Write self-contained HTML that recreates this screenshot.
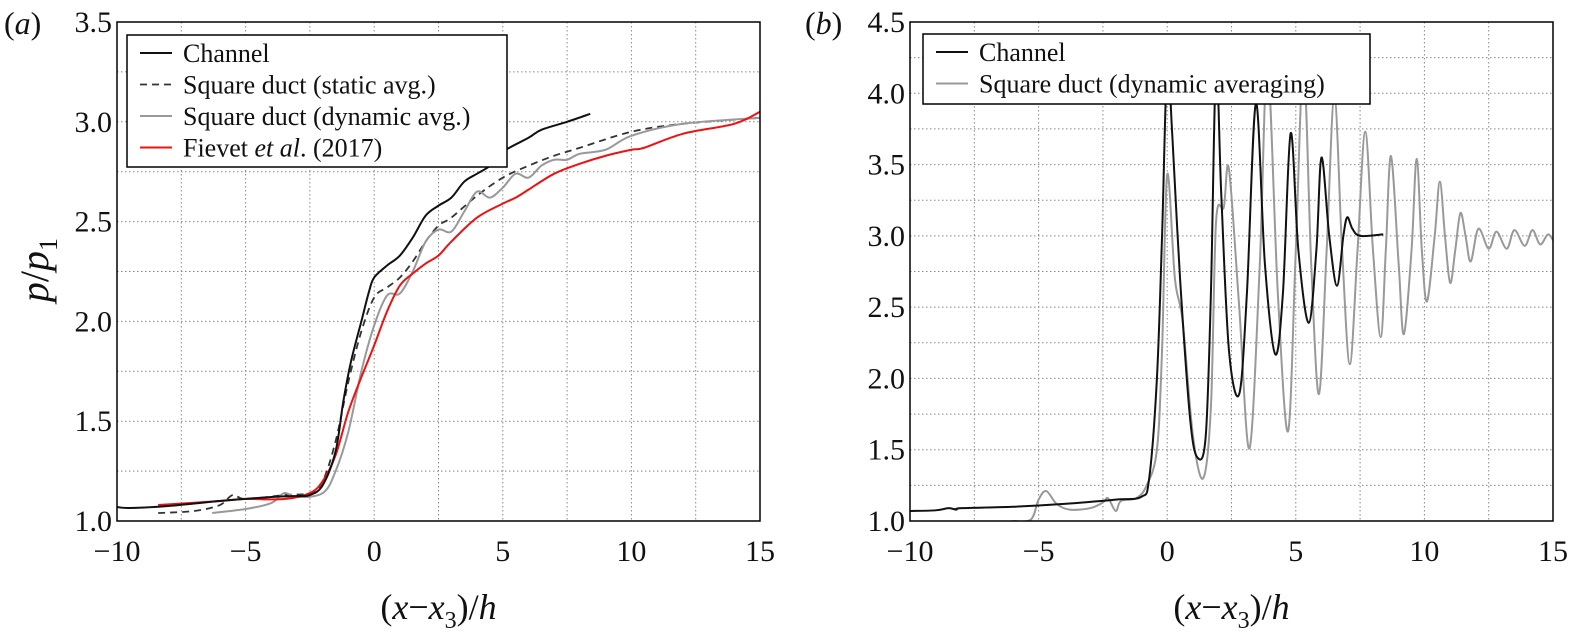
<!DOCTYPE html>
<html><head><meta charset="utf-8">
<style>
html,body{margin:0;padding:0;background:#fff;}
svg{display:block;}
svg text{font-family:"Liberation Serif","DejaVu Serif",serif;}
</style></head>
<body>
<svg id="fig" width="1577" height="635" viewBox="0 0 1577 635" font-family="Liberation Serif, serif"></svg>
<script>
// ---------- DATA ----------
const aChannelX=[-10,-9.5,-8,-6,-4,-3,-2.5,-2,-1.5,-1.2,-0.9,-0.5,-0.2,0,0.5,1,1.5,2,2.5,3,3.5,4,4.5,5,6,6.5,7.5,8.4];
const aChannelY=[1.07,1.065,1.075,1.10,1.12,1.125,1.13,1.18,1.35,1.6,1.8,2.0,2.15,2.22,2.28,2.33,2.42,2.53,2.58,2.62,2.70,2.74,2.78,2.85,2.92,2.96,3.0,3.04];
const aStaticX=[-8.4,-7,-6,-5.5,-5,-3.5,-2.5,-2,-1.5,-1,-0.5,0,0.5,1,1.5,2,2.5,3,4,5,6,7,8,10,12,15];
const aStaticY=[1.04,1.05,1.08,1.13,1.11,1.13,1.14,1.2,1.4,1.7,1.95,2.12,2.17,2.22,2.30,2.40,2.48,2.52,2.63,2.72,2.78,2.83,2.87,2.95,2.99,3.02];
const aDynX=[-6.3,-5,-4,-3.5,-3,-2,-1.5,-1,-0.5,0,0.5,1,1.5,2,2.5,3,3.5,4,4.5,5,5.5,6,6.5,7,7.5,8,9,10,12,15];
const aDynY=[1.04,1.06,1.09,1.14,1.12,1.14,1.25,1.45,1.75,1.98,2.13,2.14,2.25,2.40,2.46,2.45,2.55,2.65,2.62,2.67,2.74,2.72,2.78,2.81,2.81,2.84,2.86,2.93,2.99,3.02];
const aFievX=[-8.4,-6,-5,-3.5,-2.5,-2,-1.5,-1,-0.5,0,0.5,1,1.5,2,2.5,3,4,5,5.5,6,7,8,9,10,10.5,12,14,15];
const aFievY=[1.08,1.10,1.11,1.11,1.14,1.20,1.33,1.55,1.72,1.88,2.05,2.18,2.24,2.29,2.33,2.40,2.52,2.59,2.62,2.66,2.74,2.79,2.83,2.86,2.87,2.94,2.99,3.05];

const bChannelX=[-10,-9,-8.5,-8.2,-8,-6,-4,-2,-1,-0.7,-0.4,-0.2,0,0.2,0.5,0.9,1.2,1.5,1.7,1.9,2.1,2.4,2.8,3.1,3.45,3.8,4.2,4.5,4.8,5.1,5.5,5.8,6.0,6.3,6.6,6.85,7.0,7.2,7.5,8.4];
const bChannelY=[1.07,1.075,1.09,1.08,1.09,1.10,1.12,1.15,1.17,1.3,2.0,3.0,4.2,3.7,2.7,1.7,1.44,1.6,2.6,4.2,3.3,2.2,1.89,2.6,3.93,2.8,2.17,2.6,3.72,2.9,2.39,2.9,3.55,3.0,2.65,3.0,3.13,3.05,3.0,3.01];
const bDuctX=[-6,-5.3,-5,-4.7,-4.3,-3.8,-3,-2.5,-2.3,-2,-1.8,-1.2,-0.8,-0.4,-0.2,0,0.3,0.6,1.0,1.4,1.7,1.9,2.2,2.4,2.8,3.2,3.6,3.9,4.3,4.7,5.0,5.3,5.6,5.9,6.2,6.5,6.8,7.1,7.4,7.7,8.0,8.3,8.5,8.7,9.0,9.2,9.5,9.7,9.9,10.1,10.4,10.6,10.8,11.0,11.2,11.4,11.6,11.8,12.1,12.5,12.8,13.2,13.5,13.9,14.2,14.5,14.8,15];
const bDuctY=[1.0,1.01,1.15,1.21,1.12,1.08,1.09,1.13,1.16,1.07,1.14,1.16,1.25,1.5,2.2,3.43,2.7,2.4,1.6,1.3,1.8,3.1,3.2,3.47,2.5,1.51,2.8,4.2,2.6,1.63,2.9,4.2,2.8,1.89,2.9,3.98,2.9,2.1,2.9,3.73,2.9,2.29,2.9,3.56,2.8,2.31,2.9,3.54,2.9,2.54,3.0,3.38,3.0,2.67,2.9,3.16,3.0,2.82,3.05,2.91,3.03,2.91,3.04,2.93,3.04,2.94,3.01,2.97];

const xTicks=[-10,-5,0,5,10,15];
const aYTicks=[1.0,1.5,2.0,2.5,3.0,3.5];
const bYTicks=[1.0,1.5,2.0,2.5,3.0,3.5,4.0,4.5];

// ---------- DRAW ----------
const NS="http://www.w3.org/2000/svg";
const svg=document.getElementById('fig');
const FONT='Liberation Serif, serif';
function el(tag,attrs,parent){const e=document.createElementNS(NS,tag);for(const k in attrs)e.setAttribute(k,attrs[k]);if(tag==='text')e.setAttribute('font-family',FONT);(parent||svg).appendChild(e);return e;}
const TOP=22,BOT=521;
function makeAxes(L,R,ymin,ymax){return {x:v=>L+(v+10)/25*(R-L),y:v=>BOT-(v-ymin)/(ymax-ymin)*(BOT-TOP),L,R};}

function smoothPath(xs,ys,ax){
  const p=xs.map((x,i)=>[ax.x(x),ax.y(ys[i])]);
  let d='M'+p[0][0].toFixed(2)+','+p[0][1].toFixed(2);
  for(let i=0;i<p.length-1;i++){
    const p0=p[Math.max(0,i-1)],p1=p[i],p2=p[i+1],p3=p[Math.min(p.length-1,i+2)];
    const t=6;
    const c1=[p1[0]+(p2[0]-p0[0])/t,p1[1]+(p2[1]-p0[1])/t];
    const c2=[p2[0]-(p3[0]-p1[0])/t,p2[1]-(p3[1]-p1[1])/t];
    d+=' C'+c1.map(v=>v.toFixed(2)).join(',')+' '+c2.map(v=>v.toFixed(2)).join(',')+' '+p2[0].toFixed(2)+','+p2[1].toFixed(2);
  }
  return d;
}

function panel(id,L,R,ymin,ymax,yTicks){
  const ax=makeAxes(L,R,ymin,ymax);
  const g=el('g',{});
  
  
  const defs=el('defs',{},g);
  const cp=el('clipPath',{id:'clip'+id},defs);
  el('rect',{x:L,y:TOP,width:R-L,height:BOT-TOP},cp);
  const grid=el('g',{stroke:'#888','stroke-width':1,'stroke-dasharray':'1.5,2.5'},g);
  
  
  for(let v=-7.5;v<15;v+=2.5){el('line',{x1:ax.x(v),x2:ax.x(v),y1:TOP,y2:BOT},grid);}
  for(let v=ymin+0.25;v<ymax-0.01;v+=0.25){el('line',{x1:L,x2:R,y1:ax.y(v),y2:ax.y(v)},grid);}
  xTicks.forEach(t=>{
    const tx=el('text',{x:ax.x(t),y:BOT+40,'font-size':30,'text-anchor':'middle',fill:'#111'},g);
    tx.textContent=(t<0?'\u2212':'')+Math.abs(t);
    
    
  });
  yTicks.forEach(t=>{
    const ty=el('text',{x:L-5,y:ax.y(t)+10,'font-size':30,'text-anchor':'end',fill:'#111'},g);
    ty.textContent=t.toFixed(1);
    
    
  });
  const xl=el('text',{x:(L+R)/2,y:BOT+98,'font-size':36,'text-anchor':'middle',fill:'#111'},g);
  xl.innerHTML='(<tspan font-style="italic">x</tspan>\u2212<tspan font-style="italic">x</tspan><tspan font-size="24" dy="9">3</tspan><tspan dy="-9">)/</tspan><tspan font-style="italic">h</tspan>';
  
  
  const pl=el('text',{x:L-113+(id==='b'?8:0),y:34,'font-size':32,fill:'#111'},g);
  pl.innerHTML='(<tspan font-style="italic">'+id+'</tspan>)';
  
  
  const lines=el('g',{'clip-path':'url(#clip'+id+')',fill:'none'},g);
  return {ax,g,lines};
}

function series(P,xs,ys,color,w,dash,name){
  const a={d:smoothPath(xs,ys,P.ax),stroke:color,'stroke-width':w,fill:'none','stroke-linejoin':'round'};
  if(dash)a['stroke-dasharray']=dash;
  const p=el('path',a,P.lines);
  
  
}

function legend(P,x,y,w,h,entries,name){
  const lg=el('g',{},P.g);
  
  
  el('rect',{x,y,width:w,height:h,fill:'#fff',stroke:'#000','stroke-width':1.5},lg);
  entries.forEach((e,i)=>{
    const cy=y+18+i*31.5;
    const la={x1:x+13,x2:x+45,y1:cy,y2:cy,stroke:e.c,'stroke-width':e.w};
    if(e.dash)la['stroke-dasharray']=e.dash;
    el('line',la,lg);
    const t=el('text',{x:x+56,y:cy+9,'font-size':26,fill:'#111'},lg);
    t.innerHTML=e.t;
    
    
  });
}

function frame(P){
  const f=el('rect',{x:P.ax.L,y:TOP,width:P.ax.R-P.ax.L,height:BOT-TOP,fill:'none',stroke:'#000','stroke-width':1.5},P.g);
  
  
}

// Panel a
const A=panel('a',117,760,1.0,3.5,aYTicks);
const yl=el('text',{x:0,y:0,'font-size':40,'text-anchor':'middle',fill:'#111',transform:'translate(48,270) rotate(-90)'},A.g);
yl.innerHTML='<tspan font-style="italic">p</tspan>/<tspan font-style="italic">p</tspan><tspan font-size="26" dy="9">1</tspan>';


series(A,aStaticX,aStaticY,'#333',1.8,'7,5','series-static-avg');
series(A,aDynX,aDynY,'#999',2,null,'series-dynamic-avg');
series(A,aFievX,aFievY,'#ee1111',2,null,'series-fievet');
series(A,aChannelX,aChannelY,'#111',2,null,'series-channel');
legend(A,127,35,380,132,[
  {t:'Channel',c:'#111',w:2},
  {t:'Square duct (static avg.)',c:'#333',w:1.8,dash:'7,5'},
  {t:'Square duct (dynamic avg.)',c:'#999',w:2},
  {t:'Fievet <tspan font-style="italic">et al</tspan>. (2017)',c:'#ee1111',w:2}
],'legend-a');
frame(A);

// Panel b
const B=panel('b',910,1553,1.0,4.5,bYTicks);
series(B,bDuctX,bDuctY,'#999',2,null,'series-square-duct');
series(B,bChannelX,bChannelY,'#111',2,null,'series-channel-b');
legend(B,923,34,447,70,[
  {t:'Channel',c:'#111',w:2},
  {t:'Square duct (dynamic averaging)',c:'#999',w:2}
],'legend-b');
frame(B);
</script>
</body></html>
